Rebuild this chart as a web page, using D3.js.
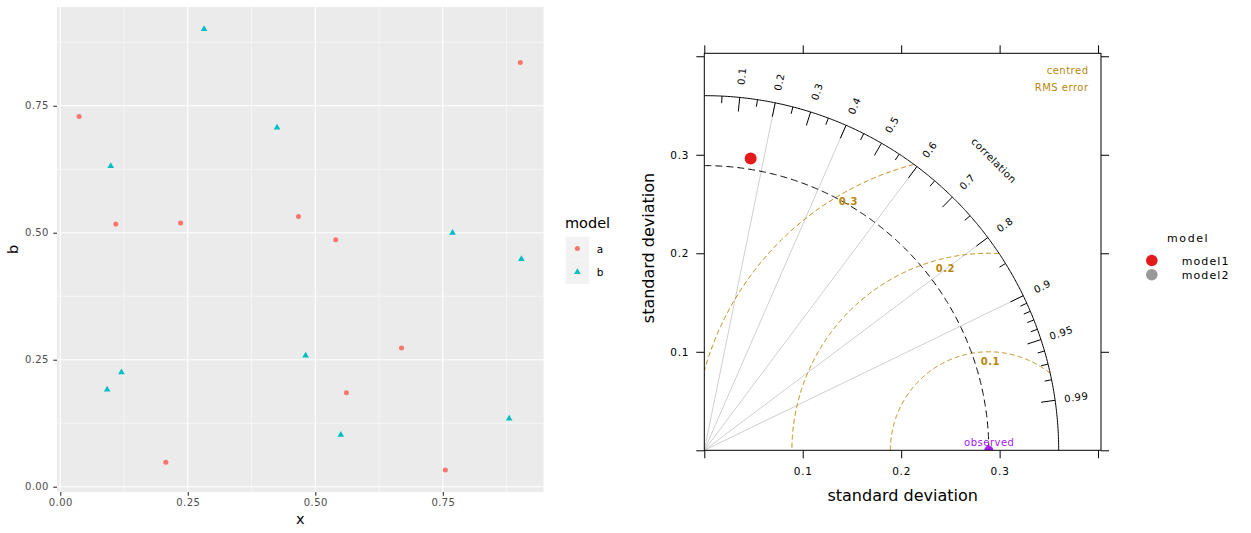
<!DOCTYPE html>
<html>
<head>
<meta charset="utf-8">
<script src="https://cdn.jsdelivr.net/npm/d3@7"></script>
<style>
    body { margin: 0; background: #fff; }
    text { font-family: "DejaVu Sans", sans-serif; }
</style>
</head>
<body>
<svg id="chart" width="1251" height="533"></svg>
<script>
// ---- scatter panel data ----
const groups = ['a', 'b'];
const groupColors = ['#F8766D', '#00BFC4'];
const aX = [0.037, 0.109, 0.236, 0.467, 0.902, 0.540, 0.207, 0.669, 0.561, 0.755];
const aY = [0.729, 0.517, 0.519, 0.532, 0.835, 0.486, 0.048, 0.273, 0.185, 0.033];
const bX = [0.282, 0.099, 0.425, 0.769, 0.904, 0.092, 0.120, 0.481, 0.550, 0.880];
const bY = [0.901, 0.631, 0.707, 0.500, 0.448, 0.191, 0.225, 0.258, 0.102, 0.134];
const xTicks = [0, 0.25, 0.5, 0.75];
const yTicks = [0, 0.25, 0.5, 0.75];

// ---- taylor diagram data ----
const sdTicks = [0, 0.1, 0.2, 0.3, 0.4];
const sdLabelTicks = [0.1, 0.2, 0.3];
const corrMajor = [0.1, 0.2, 0.3, 0.4, 0.5, 0.6, 0.7, 0.8, 0.9, 0.95, 0.99];
const corrMinor = [0.05, 0.15, 0.25, 0.35, 0.45, 0.55, 0.65, 0.75, 0.85, 0.91, 0.92, 0.93, 0.94, 0.96, 0.97, 0.98];
const corrLines = [0.2, 0.4, 0.6, 0.8, 0.9];
const rmsLevels = [0.1, 0.2, 0.3];
const observedSd = 0.289;
const sdMax = 0.36;
const modelNames = ['model1', 'model2'];
const modelColors = ['#E41A1C', '#999999'];
const modelSd = [0.300, null];
const modelCorr = [0.157, null];

const svg = d3.select('#chart');

// ================= left: ggplot style scatter =================
const panel = { left: 57, right: 543.5, top: 7, bottom: 492 };
const allX = aX.concat(bX), allY = aY.concat(bY);
const padX = (d3.max(allX) - d3.min(allX)) * 0.05;
const padY = (d3.max(allY) - d3.min(allY)) * 0.05;

const x = d3.scaleLinear()
    .domain([d3.min(allX) - padX, d3.max(allX) + padX])
    .range([panel.left, panel.right]);
const y = d3.scaleLinear()
    .domain([d3.min(allY) - padY, d3.max(allY) + padY])
    .range([panel.bottom, panel.top]);

const left = svg.append('g');

left.append('rect')
    .attr('x', panel.left).attr('y', panel.top)
    .attr('width', panel.right - panel.left)
    .attr('height', panel.bottom - panel.top)
    .attr('fill', '#ebebeb');

// minor grid
const minorX = d3.range(xTicks.length).map(i => xTicks[i] + 0.125).filter(v => v < x.domain()[1]);
const minorY = d3.range(yTicks.length).map(i => yTicks[i] + 0.125).filter(v => v < y.domain()[1]);

left.selectAll('.minor-x').data(minorX).join('line')
    .attr('x1', d => x(d)).attr('x2', d => x(d))
    .attr('y1', panel.top).attr('y2', panel.bottom)
    .attr('stroke', '#fff').attr('stroke-width', 0.55);
left.selectAll('.minor-y').data(minorY).join('line')
    .attr('y1', d => y(d)).attr('y2', d => y(d))
    .attr('x1', panel.left).attr('x2', panel.right)
    .attr('stroke', '#fff').attr('stroke-width', 0.55);

// major grid
left.selectAll('.major-x').data(xTicks).join('line')
    .attr('x1', d => x(d)).attr('x2', d => x(d))
    .attr('y1', panel.top).attr('y2', panel.bottom)
    .attr('stroke', '#fff').attr('stroke-width', 1.1);
left.selectAll('.major-y').data(yTicks).join('line')
    .attr('y1', d => y(d)).attr('y2', d => y(d))
    .attr('x1', panel.left).attr('x2', panel.right)
    .attr('stroke', '#fff').attr('stroke-width', 1.1);

// axes
const xAxis = left.append('g')
    .attr('transform', `translate(0,${panel.bottom})`)
    .call(d3.axisBottom(x).tickValues(xTicks).tickFormat(d3.format('.2f')).tickSize(3.7).tickPadding(3.2));
const yAxis = left.append('g')
    .attr('transform', `translate(${panel.left},0)`)
    .call(d3.axisLeft(y).tickValues(yTicks).tickFormat(d3.format('.2f')).tickSize(3.7).tickPadding(4.5));

[xAxis, yAxis].forEach(ax => {
    ax.select('.domain').remove();
    ax.selectAll('line').attr('stroke', '#333').attr('stroke-width', 1.1);
    ax.selectAll('text')
        .attr('fill', '#4d4d4d')
        .style('font-size', '10px')
        .style('letter-spacing', '0.4px')
        .style('font-family', '"DejaVu Sans", sans-serif');
});

left.append('text')
    .attr('x', (panel.left + panel.right) / 2).attr('y', 524)
    .attr('text-anchor', 'middle')
    .style('font-size', '14.5px')
    .text('x');
left.append('text')
    .attr('transform', `translate(18,${(panel.top + panel.bottom) / 2}) rotate(-90)`)
    .attr('text-anchor', 'middle')
    .style('font-size', '14.5px')
    .text('b');

// points
const sym = [d3.symbol().type(d3.symbolCircle).size(20), d3.symbol().type(d3.symbolTriangle).size(19)];
const seriesX = [aX, bX], seriesY = [aY, bY];
groups.forEach((g, gi) => {
    left.append('g').selectAll('path')
        .data(seriesX[gi].map((v, i) => [v, seriesY[gi][i]]))
        .join('path')
        .attr('d', sym[gi])
        .attr('transform', d => `translate(${x(d[0])},${y(d[1])})`)
        .attr('fill', groupColors[gi]);
});

// legend
const leg = left.append('g');
leg.append('text')
    .attr('x', 565).attr('y', 227.7)
    .style('font-size', '14.5px')
    .text('model');
groups.forEach((g, gi) => {
    const ky = 236.7 + gi * 23.6;
    leg.append('rect')
        .attr('x', 565.7).attr('y', ky)
        .attr('width', 23.4).attr('height', 23.6)
        .attr('fill', '#f2f2f2');
    leg.append('path')
        .attr('d', sym[gi])
        .attr('transform', `translate(577.4,${ky + 11.8})`)
        .attr('fill', groupColors[gi]);
    leg.append('text')
        .attr('x', 596.7).attr('y', ky + 15.8)
        .style('font-size', '10.5px')
        .text(g);
});

// ================= right: taylor diagram =================
const tp = { left: 704.3, right: 1101, top: 53.3, bottom: 450.3 };
const sx = d3.scaleLinear().domain([0, 0.403]).range([tp.left, tp.right]);
const sy = d3.scaleLinear().domain([0, 0.403]).range([tp.bottom, tp.top]);
const polar = (r, c) => [sx(r * c), sy(r * Math.sqrt(Math.max(0, 1 - c * c)))];
const rmsColor = '#B8860B';

const right = svg.append('g');

svg.append('defs').append('clipPath').attr('id', 'tclip')
    .append('rect')
    .attr('x', tp.left).attr('y', tp.top)
    .attr('width', tp.right - tp.left).attr('height', tp.bottom - tp.top);

const inner = right.append('g').attr('clip-path', 'url(#tclip)');
const line = d3.line();

// radial correlation lines
inner.selectAll('.corr-line').data(corrLines).join('line')
    .attr('x1', sx(0)).attr('y1', sy(0))
    .attr('x2', d => polar(sdMax, d)[0]).attr('y2', d => polar(sdMax, d)[1])
    .attr('stroke', '#cfcfcf').attr('stroke-width', 1);

// centred rms arcs around observed point
const angles = d3.range(0, 180.25, 0.25).map(a => a * Math.PI / 180);
rmsLevels.forEach(r => {
    const pts = angles
        .map(a => [observedSd + r * Math.cos(a), r * Math.sin(a)])
        .filter(p => p[0] >= 0 && Math.hypot(p[0], p[1]) <= sdMax);
    inner.append('path')
        .attr('d', line(pts.map(p => [sx(p[0]), sy(p[1])])))
        .attr('fill', 'none')
        .attr('stroke', rmsColor).attr('stroke-width', 1)
        .attr('stroke-dasharray', '5,3');
});

// observed sd arc
const quarter = d3.range(0, 90.25, 0.25).map(a => a * Math.PI / 180);
inner.append('path')
    .attr('d', line(quarter.map(a => [sx(observedSd * Math.cos(a)), sy(observedSd * Math.sin(a))])))
    .attr('fill', 'none').attr('stroke', '#000').attr('stroke-width', 1)
    .attr('stroke-dasharray', '7,4');

// outer sd arc
inner.append('path')
    .attr('d', line(quarter.map(a => [sx(sdMax * Math.cos(a)), sy(sdMax * Math.sin(a))])))
    .attr('fill', 'none').attr('stroke', '#000').attr('stroke-width', 1);

// correlation ticks
inner.selectAll('.major').data(corrMajor).join('line')
    .attr('x1', d => polar(sdMax * 0.96, d)[0]).attr('y1', d => polar(sdMax * 0.96, d)[1])
    .attr('x2', d => polar(sdMax, d)[0]).attr('y2', d => polar(sdMax, d)[1])
    .attr('stroke', '#000').attr('stroke-width', 1);
inner.selectAll('.minor').data(corrMinor).join('line')
    .attr('x1', d => polar(sdMax * 0.98, d)[0]).attr('y1', d => polar(sdMax * 0.98, d)[1])
    .attr('x2', d => polar(sdMax, d)[0]).attr('y2', d => polar(sdMax, d)[1])
    .attr('stroke', '#000').attr('stroke-width', 1);

// correlation labels
inner.selectAll('.corr-label').data(corrMajor).join('text')
    .attr('transform', d => {
        const [px, py] = polar(sdMax * 1.06, d);
        return `translate(${px},${py}) rotate(${-Math.acos(d) * 180 / Math.PI})`;
    })
    .attr('text-anchor', 'middle')
    .attr('dominant-baseline', 'central')
    .style('font-size', '10px').style('letter-spacing', '0.5px')
    .text(d => d);

{
    const [px, py] = polar(0.416, Math.SQRT1_2);
    inner.append('text')
        .attr('transform', `translate(${px},${py}) rotate(45)`)
        .attr('text-anchor', 'middle')
        .attr('dominant-baseline', 'central')
        .style('font-size', '10px').style('letter-spacing', '0.5px')
        .text('correlation');
}

// rms labels
const rmsLabelAngles = [89, 103.4, 119.5];
rmsLevels.forEach((r, i) => {
    const a = rmsLabelAngles[i] * Math.PI / 180;
    const rp = sx(r) - sx(0) - 10;
    inner.append('text')
        .attr('x', sx(observedSd) + rp * Math.cos(a))
        .attr('y', sy(0) - rp * Math.sin(a))
        .attr('text-anchor', 'middle')
        .attr('dominant-baseline', 'central')
        .attr('fill', rmsColor)
        .style('font-size', '10px').style('font-weight', 'bold').style('letter-spacing', '0.5px')
        .text(r);
});

inner.append('text')
    .attr('x', 1088.5).attr('y', 74)
    .attr('text-anchor', 'end').attr('fill', rmsColor)
    .style('font-size', '10px').style('letter-spacing', '0.5px')
    .text('centred');
inner.append('text')
    .attr('x', 1088.5).attr('y', 90.5)
    .attr('text-anchor', 'end').attr('fill', rmsColor)
    .style('font-size', '10px').style('letter-spacing', '0.5px')
    .text('RMS error');

// model points
modelNames.forEach((m, i) => {
    if (modelSd[i] == null) return;
    const [px, py] = polar(modelSd[i], modelCorr[i]);
    inner.append('circle')
        .attr('cx', px).attr('cy', py).attr('r', 6)
        .attr('fill', modelColors[i]);
});

// observed
inner.append('circle')
    .attr('cx', sx(observedSd)).attr('cy', sy(0)).attr('r', 4.5)
    .attr('fill', '#A020F0');
inner.append('text')
    .attr('x', sx(observedSd) + 0.5).attr('y', sy(0) - 4.8)
    .attr('text-anchor', 'middle').attr('fill', '#A020F0')
    .style('font-size', '10px').style('letter-spacing', '0.5px')
    .text('observed');

// frame and axes
right.append('rect')
    .attr('x', tp.left).attr('y', tp.top)
    .attr('width', tp.right - tp.left).attr('height', tp.bottom - tp.top)
    .attr('fill', 'none').attr('stroke', '#000').attr('stroke-width', 1);

const fmt = d => sdLabelTicks.includes(d) ? d3.format('.1f')(d) : '';
const axes = [
    right.append('g').attr('transform', `translate(0,${tp.bottom})`)
        .call(d3.axisBottom(sx).tickValues(sdTicks).tickFormat(fmt).tickSize(8).tickPadding(9)),
    right.append('g').attr('transform', `translate(${tp.left},0)`)
        .call(d3.axisLeft(sy).tickValues(sdTicks).tickFormat(fmt).tickSize(8).tickPadding(7)),
    right.append('g').attr('transform', `translate(0,${tp.top})`)
        .call(d3.axisTop(sx).tickValues(sdTicks).tickFormat('').tickSize(8)),
    right.append('g').attr('transform', `translate(${tp.right},0)`)
        .call(d3.axisRight(sy).tickValues(sdTicks).tickFormat('').tickSize(8))
];
axes.forEach(ax => {
    ax.select('.domain').remove();
    ax.selectAll('line').attr('stroke', '#000');
    ax.selectAll('text')
        .attr('fill', '#000')
        .style('font-size', '10.5px')
        .style('letter-spacing', '0.8px')
        .style('font-family', '"DejaVu Sans", sans-serif');
});

right.append('text')
    .attr('x', (tp.left + tp.right) / 2).attr('y', 501)
    .attr('text-anchor', 'middle')
    .style('font-size', '16px')
    .text('standard deviation');
right.append('text')
    .attr('transform', `translate(654,248) rotate(-90)`)
    .attr('text-anchor', 'middle')
    .style('font-size', '16px')
    .text('standard deviation');

// model legend
const mleg = svg.append('g');
mleg.append('text')
    .attr('x', 1167).attr('y', 241.7)
    .style('font-size', '11px').style('letter-spacing', '1.6px')
    .text('model');
modelNames.forEach((m, i) => {
    const ly = 260.5 + i * 14.2;
    mleg.append('circle')
        .attr('cx', 1151.8).attr('cy', ly).attr('r', 5.8)
        .attr('fill', modelColors[i]);
    mleg.append('text')
        .attr('x', 1181.7).attr('y', ly + 4.3)
        .style('font-size', '11px').style('letter-spacing', '1.1px')
        .text(m);
});
</script>
</body>
</html>
